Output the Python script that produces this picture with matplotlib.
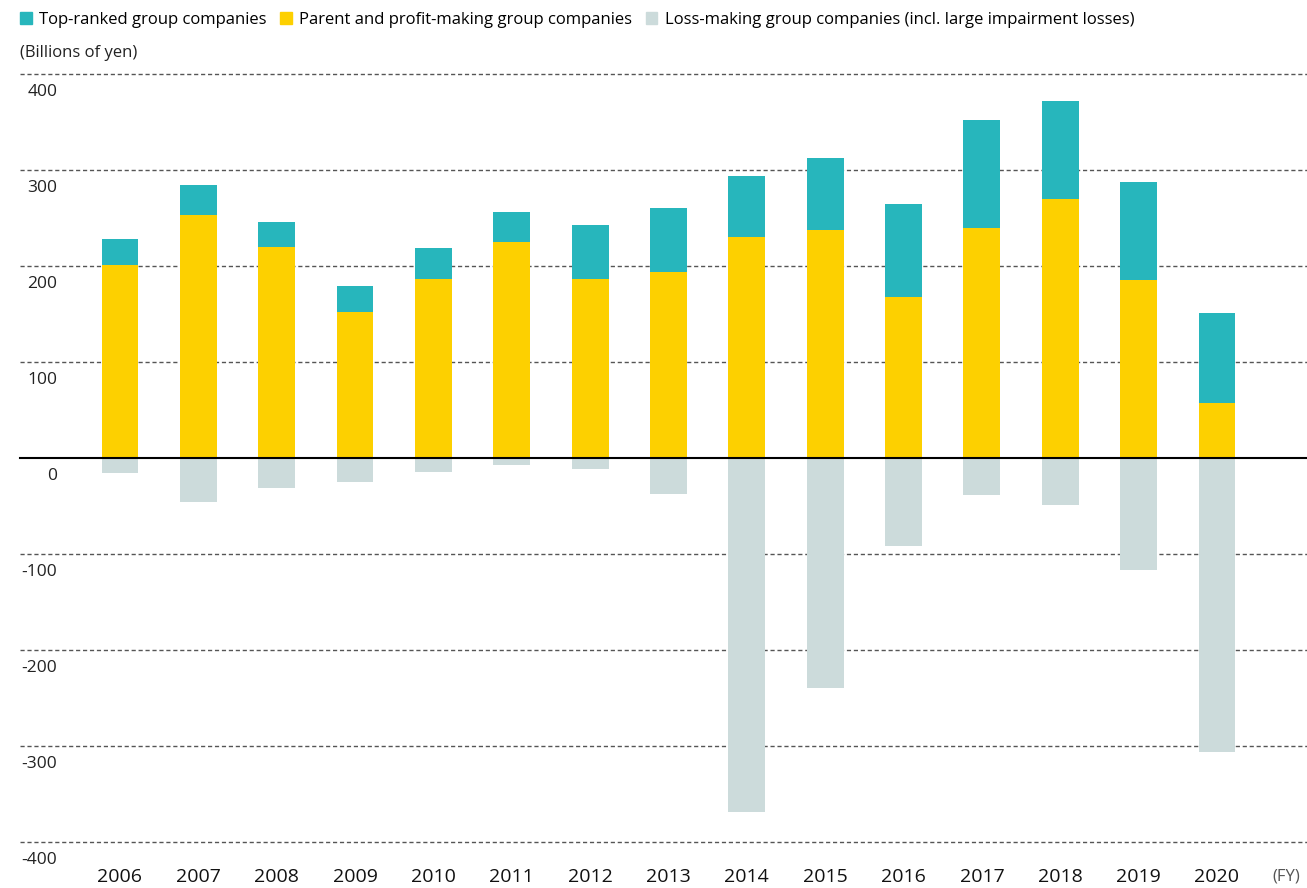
import matplotlib
matplotlib.use("Agg")
import matplotlib.pyplot as plt
from matplotlib.patches import Patch
from matplotlib.transforms import ScaledTranslation

years = [str(y) for y in range(2006, 2021)]
parent_profit = [201, 253, 220, 152, 186, 225, 186, 194, 230, 237, 168, 240, 270, 185, 57]
top_ranked = [27, 31, 26, 27, 33, 31, 57, 66, 64, 76, 97, 112, 102, 103, 94]
loss_making = [-16, -46, -31, -25, -15, -7, -11, -37, -369, -240, -92, -39, -49, -117, -306]
y_ticks = [400, 300, 200, 100, 0, -100, -200, -300, -400]

TEAL = "#27B6BC"
YELLOW = "#FDD000"
GREY = "#CCDBDB"

plt.rcParams["font.family"] = ["Open Sans", "DejaVu Sans"]

fig = plt.figure(figsize=(13.07, 8.88), dpi=100)
ax = fig.add_axes([20 / 1307, 1 - 842 / 888, 1 - 20 / 1307, (842 - 74) / 888])

x = list(range(len(years)))
w = 0.47
ax.bar(x, parent_profit, width=w, color=YELLOW, zorder=2)
ax.bar(x, top_ranked, width=w, bottom=parent_profit, color=TEAL, zorder=2)
ax.bar(x, loss_making, width=w, color=GREY, zorder=2)

ax.set_xlim(-1.276, 15.149)
ax.set_ylim(-400, 400)

for v in y_ticks:
    if v == 0:
        ax.axhline(0, color="black", lw=1.5, zorder=3, clip_on=False)
    else:
        ax.axhline(v, color="#555555", lw=1.0, ls=(0, (3, 2)), zorder=1, clip_on=False)

ax.set_yticks(y_ticks)
ax.set_yticklabels([str(v) for v in y_ticks])
ax.tick_params(axis="y", length=0, pad=-27, labelsize=12.5, labelcolor="#222222")
offset = ScaledTranslation(0, -16 / 100, fig.dpi_scale_trans)
for lab in ax.get_yticklabels():
    lab.set_transform(lab.get_transform() + offset)
    lab.set_horizontalalignment("right")

ax.set_xticks(x)
ax.set_xticklabels(years)
ax.tick_params(axis="x", length=0, pad=19, labelsize=14, labelcolor="#111111")
fy = ax.text(14.89, 0, "(FY)", ha="center", va="top", fontsize=12, color="#555555",
             transform=ax.get_xaxis_transform()
             + ScaledTranslation(0, -26 / 100, fig.dpi_scale_trans))

for s in ax.spines.values():
    s.set_visible(False)

fig.text(20 / 1307, 1 - 53 / 888, "(Billions of yen)", fontsize=12, va="center",
         ha="left", color="#222222")

handles = [Patch(color=TEAL), Patch(color=YELLOW), Patch(color=GREY)]
labels = ["Top-ranked group companies", "Parent and profit-making group companies",
          "Loss-making group companies (incl. large impairment losses)"]
fig.legend(handles, labels, loc="center left", bbox_to_anchor=(20 / 1307, 1 - 20 / 888),
           ncol=3, frameon=False, fontsize=12, handlelength=0.7, handleheight=0.7,
           handletextpad=0.45, columnspacing=0.8, borderaxespad=0, borderpad=0)

fig.savefig("out.png", dpi=100)
